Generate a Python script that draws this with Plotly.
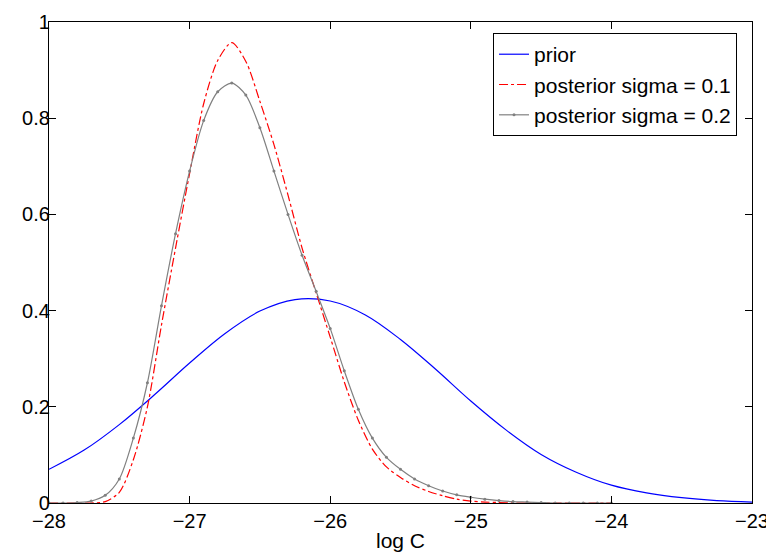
import plotly.graph_objects as go

# Prior (blue), sampled every 0.25 in log C
x_prior = [-28.0, -27.75, -27.5, -27.25, -27.0, -26.75, -26.5, -26.25, -26.0, -25.75,
           -25.5, -25.25, -25.0, -24.75, -24.5, -24.25, -24.0, -23.75, -23.5, -23.25, -23.0]
y_prior = [0.070, 0.110, 0.163, 0.225, 0.291, 0.352, 0.399, 0.423, 0.420, 0.391,
           0.340, 0.278, 0.212, 0.152, 0.101, 0.064, 0.037, 0.021, 0.011, 0.005, 0.002]

# Posteriors, sampled every 0.1 in log C from -28 to -24
x_post = [-28.0, -27.9, -27.8, -27.7, -27.6, -27.5, -27.4, -27.3, -27.2, -27.1,
          -27.0, -26.9, -26.8, -26.7, -26.6, -26.5, -26.4, -26.3, -26.2, -26.1,
          -26.0, -25.9, -25.8, -25.7, -25.6, -25.5, -25.4, -25.3, -25.2, -25.1,
          -25.0, -24.9, -24.8, -24.7, -24.6, -24.5, -24.4, -24.3, -24.2, -24.1, -24.0]
y_post_01 = [0.0, 0.0, 0.0, 0.0, 0.003, 0.022, 0.090, 0.200, 0.370, 0.530,
             0.685, 0.830, 0.920, 0.957, 0.918, 0.835, 0.745, 0.640, 0.530, 0.437,
             0.345, 0.252, 0.172, 0.112, 0.075, 0.053, 0.036, 0.024, 0.015, 0.008,
             0.004, 0.002, 0.001, 0.0, 0.0, 0.0, 0.0, 0.0, 0.0, 0.0, 0.0]
y_post_02 = [0.0, 0.0, 0.001, 0.004, 0.016, 0.050, 0.135, 0.250, 0.410, 0.560,
             0.690, 0.795, 0.855, 0.873, 0.848, 0.780, 0.690, 0.600, 0.515, 0.440,
             0.363, 0.275, 0.195, 0.135, 0.095, 0.070, 0.050, 0.036, 0.025, 0.017,
             0.012, 0.008, 0.005, 0.003, 0.002, 0.001, 0.0, 0.0, 0.0, 0.0, 0.0]

x_ticks = [-28, -27, -26, -25, -24, -23]
y_ticks = [0, 0.2, 0.4, 0.6, 0.8, 1]

FONT = "Liberation Sans, Arial, sans-serif"

fig = go.Figure()
fig.add_trace(go.Scatter(x=x_prior, y=y_prior, mode="lines", name="prior",
                         line=dict(color="#0000ff", width=1.2, shape="spline", smoothing=1.0)))
fig.add_trace(go.Scatter(x=x_post, y=y_post_01, mode="lines", name="posterior sigma = 0.1",
                         line=dict(color="#ff0000", width=1.2, dash="dashdot", shape="spline", smoothing=0.8)))
fig.add_trace(go.Scatter(x=x_post, y=y_post_02, mode="lines+markers", name="posterior sigma = 0.2",
                         line=dict(color="#808080", width=1.2, shape="spline", smoothing=0.8),
                         marker=dict(color="#808080", size=3)))

axis_common = dict(showgrid=False, zeroline=False, showline=True, linecolor="black",
                   linewidth=1.2, mirror="ticks", ticks="inside", ticklen=7, tickwidth=1,
                   tickcolor="black", automargin=False, ticklabeloverflow="allow",
                   tickfont=dict(family=FONT, size=20, color="black"))

fig.update_layout(
    width=766, height=557,
    margin=dict(l=49, r=14, t=22, b=54, autoexpand=False),
    paper_bgcolor="white", plot_bgcolor="white",
    xaxis=dict(range=[-28, -23], tickvals=x_ticks,
               title=dict(text="log C", standoff=2,
                          font=dict(family=FONT, size=21, color="black")),
               **axis_common),
    yaxis=dict(range=[0, 1], tickvals=y_ticks, ticklabelstandoff=-6, **axis_common),
    showlegend=True,
    legend=dict(x=0.9787, y=0.977, xanchor="right", yanchor="top",
                bgcolor="white", bordercolor="black", borderwidth=1,
                font=dict(family=FONT, size=21, color="black"),
                tracegroupgap=0),
)

fig.write_html("out.html", config={"displayModeBar": False},
               post_script="document.body.style.margin='0';document.body.style.overflow='hidden';")
